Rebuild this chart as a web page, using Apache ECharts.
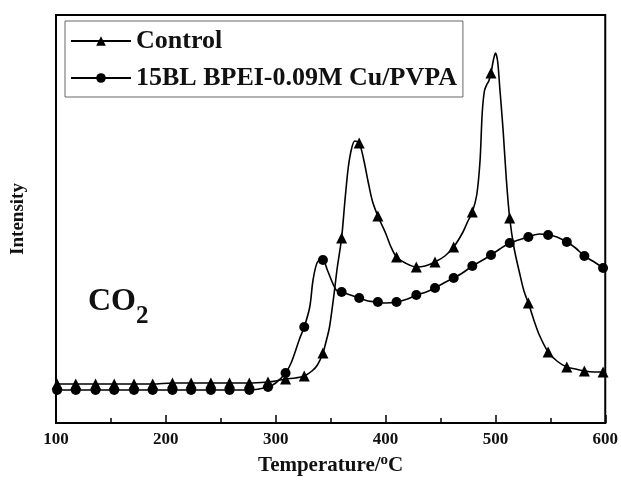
<!DOCTYPE html>
<html>
<head>
<meta charset="utf-8">
<script src="https://cdn.jsdelivr.net/npm/echarts@6/dist/echarts.min.js"></script>
<style>
  html, body { margin: 0; padding: 0; background: #fff; }
  #chart { width: 621px; height: 483px; }
</style>
</head>
<body>
<div id="chart"></div>
<script>
// temperature (deg C) and intensity (a.u.)
const controlTemp = [100, 101, 118, 136, 153, 171, 188, 206, 223, 241, 258, 276, 293, 300, 309, 318, 326, 333, 338, 343, 346, 349, 353, 356, 360, 363, 366, 369, 372, 376, 380, 384, 388, 393, 400, 405, 410, 418, 428, 436, 445, 454, 462, 470, 475, 479, 483, 486, 488, 490, 492, 494, 496, 498, 500, 502, 504, 507, 510, 513, 517, 522, 526, 530, 535, 540, 548, 556, 565, 573, 581, 590, 598, 600]
const controlInt = [39, 39, 39, 39, 39, 39, 39, 40, 40, 40, 40, 40, 41, 42, 44, 45, 47, 52, 58, 70, 82, 96, 128, 155, 185, 222, 255, 274, 282, 280, 264, 242, 222, 207, 190, 176, 166, 160, 156, 157, 161, 167, 176, 190, 202, 211, 228, 262, 310, 332, 338, 342, 350, 362, 370, 362, 335, 293, 243, 205, 175, 150, 132, 120, 103, 88, 71, 62, 56, 54, 52, 51, 51, 51]

const bpeiTemp = [100, 101, 118, 136, 153, 171, 188, 206, 223, 241, 258, 276, 293, 300, 309, 314, 318, 322, 326, 331, 334, 338, 343, 347, 355, 360, 368, 376, 384, 393, 400, 410, 420, 428, 437, 445, 453, 462, 470, 479, 487, 496, 504, 513, 521, 530, 540, 548, 556, 565, 573, 581, 590, 598, 600]
const bpeiInt = [33, 33, 33, 33, 33, 33, 33, 33, 33, 33, 33, 33, 36, 40, 50, 60, 72, 85, 96, 116, 143, 161, 163, 153, 133, 131, 128, 125, 122, 121, 120, 121, 124, 128, 131, 135, 140, 145, 150, 157, 162, 168, 174, 180, 183, 186, 189, 188, 186, 181, 175, 167, 161, 155, 153]

// temperatures that carry a marker
const markerTemp = [101, 118, 136, 153, 171, 188, 206, 223, 241, 258, 276, 293, 309, 326, 343, 360, 376, 393, 410, 428, 445, 462, 479, 496, 513, 530, 548, 565, 581, 598]

const xTicks = [100, 200, 300, 400, 500, 600]

const serif = '"Liberation Serif", "DejaVu Serif", serif'

function buildData(temps, values, symbol) {
  return temps.map((t, i) => ({
    value: [t, values[i]],
    symbol: markerTemp.includes(t) ? symbol : 'none'
  }))
}

const chart = echarts.init(document.getElementById('chart'))

chart.setOption({
  animation: false,
  backgroundColor: '#fff',
  grid: {
    left: 56, right: 8, top: 15, bottom: 60,
    show: true, borderColor: '#000', borderWidth: 2
  },
  legend: {
    orient: 'vertical',
    left: 65, top: 21,
    padding: [7, 6, 6, 5],
    itemWidth: 60, itemHeight: 12, itemGap: 11,
    borderColor: '#666', borderWidth: 1,
    textStyle: { fontFamily: serif, fontWeight: 'bold', fontSize: 26, color: '#111' },
    data: ['Control', '15BL BPEI-0.09M Cu/PVPA']
  },
  xAxis: {
    type: 'value',
    min: xTicks[0], max: xTicks[xTicks.length - 1], interval: 100,
    axisLine: { lineStyle: { color: '#000', width: 2 } },
    axisTick: { inside: true, length: 8, lineStyle: { color: '#000', width: 1.5 } },
    minorTick: { show: true, splitNumber: 2, length: 5, lineStyle: { color: '#000', width: 1.5 } },
    splitLine: { show: false },
    axisLabel: { fontFamily: serif, fontWeight: 'bold', fontSize: 17, color: '#111', margin: 8 },
    name: '{t|Temperature/}{s|o}{t|C}',
    nameLocation: 'middle',
    nameGap: 30,
    nameTextStyle: {
      rich: {
        t: { fontFamily: serif, fontWeight: 'bold', fontSize: 21, color: '#111', lineHeight: 26 },
        s: { fontFamily: serif, fontWeight: 'bold', fontSize: 15, color: '#111', lineHeight: 20, verticalAlign: 'top' }
      }
    }
  },
  yAxis: {
    type: 'value',
    min: 0, max: 408,
    axisLine: { show: true, lineStyle: { color: '#000', width: 2 } },
    axisTick: { show: false },
    axisLabel: { show: false },
    splitLine: { show: false },
    name: 'Intensity',
    nameLocation: 'middle',
    nameGap: 28,
    nameTextStyle: { fontFamily: serif, fontWeight: 'bold', fontSize: 19, color: '#111' }
  },
  graphic: [
    {
      type: 'text', left: 88, top: 286,
      style: { text: 'CO', font: 'bold 32px ' + serif, fill: '#111' }
    },
    {
      type: 'text', left: 136, top: 304,
      style: { text: '2', font: 'bold 25px ' + serif, fill: '#111' }
    }
  ],
  series: [
    {
      name: 'Control',
      type: 'line',
      smooth: 0.3,
      symbol: 'triangle',
      symbolSize: 11,
      showAllSymbol: true,
      color: '#000',
      lineStyle: { color: '#000', width: 1.6 },
      itemStyle: { color: '#000' },
      data: buildData(controlTemp, controlInt, 'triangle')
    },
    {
      name: '15BL BPEI-0.09M Cu/PVPA',
      type: 'line',
      smooth: 0.3,
      symbol: 'circle',
      symbolSize: 10,
      showAllSymbol: true,
      color: '#000',
      lineStyle: { color: '#000', width: 1.6 },
      itemStyle: { color: '#000' },
      data: buildData(bpeiTemp, bpeiInt, 'circle')
    }
  ]
})
</script>
</body>
</html>
